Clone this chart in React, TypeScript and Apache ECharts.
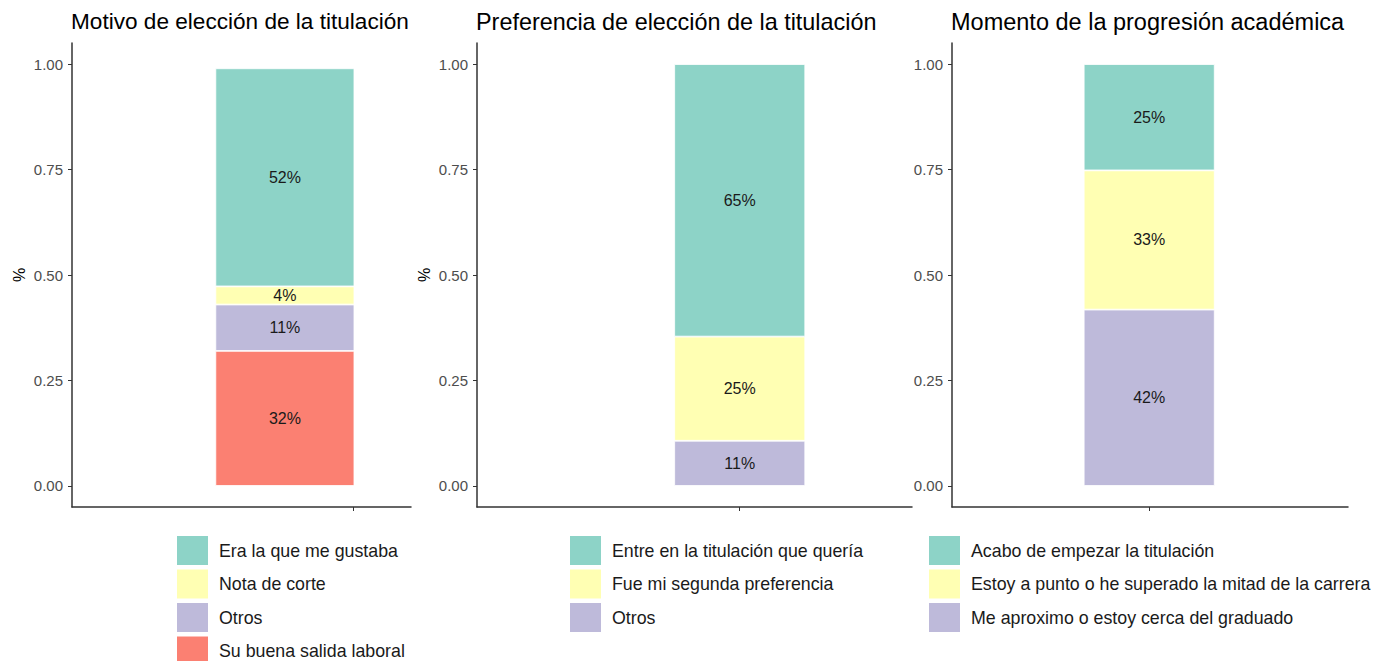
import React, { useEffect, useRef } from "react";
import * as echarts from "echarts";

const colors = ["#8DD3C7", "#FFFFB3", "#BEBADA", "#FB8072"];

const titles = [
  "Motivo de elección de la titulación",
  "Preferencia de elección de la titulación",
  "Momento de la progresión académica",
];

const motivoCats = ["Era la que me gustaba", "Nota de corte", "Otros", "Su buena salida laboral"];
const motivoVals = [0.517, 0.043, 0.11, 0.32];

const prefCats = ["Entre en la titulación que quería", "Fue mi segunda preferencia", "Otros"];
const prefVals = [0.646, 0.247, 0.107];

const momentoCats = [
  "Acabo de empezar la titulación",
  "Estoy a punto o he superado la mitad de la carrera",
  "Me aproximo o estoy cerca del graduado",
];
const momentoVals = [0.252, 0.33, 0.418];

const yTicks = [0, 0.25, 0.5, 0.75, 1];
const yName = "%";
const barCategory = ["total"];

const FONT = "'Liberation Sans', Arial, sans-serif";

// layout per panel (pixels / axis fractions)
const panels = [
  { cats: motivoCats, vals: motivoVals, left: 72, width: 339, barX: 0.628, tickX: 0.829, barW: 139, legendLeft: 177, showName: true, titleSize: 22.6 },
  { cats: prefCats, vals: prefVals, left: 477, width: 435, barX: 0.604, tickX: 0.604, barW: 131, legendLeft: 570, showName: true, titleSize: 23.4 },
  { cats: momentoCats, vals: momentoVals, left: 952, width: 396, barX: 0.498, tickX: 0.498, barW: 131, legendLeft: 929, showName: false, titleSize: 23.5 },
];

export default function App() {
  const ref = useRef<HTMLDivElement>(null);
  useEffect(() => {
    if (!ref.current) return;
    const chart = echarts.init(ref.current, undefined, { renderer: "svg" });
    const gridTop = 43;
    const gridH = 464;
    const barGridW = 300;
    const grids: any[] = [];
    const xAxes: any[] = [];
    const yAxes: any[] = [];
    const series: any[] = [];
    const legends: any[] = [];
    const titleOpts: any[] = [];
    panels.forEach((p, i) => {
      const axGrid = 2 * i;
      const barGrid = 2 * i + 1;
      // visible axes grid
      grids.push({ left: p.left, top: gridTop, width: p.width, height: gridH });
      // bar grid, centred on the bar position
      grids.push({
        left: p.left + p.barX * p.width - barGridW / 2,
        top: gridTop,
        width: barGridW,
        height: gridH,
      });
      titleOpts.push({
        text: titles[i],
        left: p.left - 1,
        top: 10,
        padding: 0,
        textStyle: { fontFamily: FONT, fontSize: p.titleSize, fontWeight: "normal", color: "#000" },
      });
      xAxes.push({
        type: "value",
        gridIndex: axGrid,
        min: 0,
        max: 1,
        axisLine: { show: true, onZero: false, lineStyle: { color: "#333", width: 1.5 } },
        axisTick: { show: true, length: 4, customValues: [p.tickX], lineStyle: { color: "#333", width: 1 } },
        axisLabel: { show: false },
        splitLine: { show: false },
      });
      xAxes.push({
        type: "category",
        gridIndex: barGrid,
        data: barCategory,
        show: false,
      });
      yAxes.push({
        type: "value",
        gridIndex: axGrid,
        min: -0.05,
        max: 1.05,
        name: p.showName ? yName : "",
        nameLocation: "middle",
        nameGap: 45,
        nameRotate: 90,
        nameTextStyle: { fontFamily: FONT, fontSize: 16, color: "#000" },
        axisLine: { show: true, lineStyle: { color: "#333", width: 1.5 } },
        axisTick: { show: true, length: 4, customValues: yTicks, lineStyle: { color: "#333", width: 1 } },
        axisLabel: {
          customValues: yTicks,
          margin: 9,
          fontFamily: FONT,
          fontSize: 15,
          color: "#4D4D4D",
          formatter: (v: number) => v.toFixed(2),
        },
        splitLine: { show: false },
      });
      yAxes.push({
        type: "value",
        gridIndex: barGrid,
        min: -0.05,
        max: 1.05,
        show: false,
        splitLine: { show: false },
      });
      // stack bottom-first (last category at the bottom)
      for (let k = p.cats.length - 1; k >= 0; k--) {
        series.push({
          type: "bar",
          name: p.cats[k],
          xAxisIndex: barGrid,
          yAxisIndex: barGrid,
          stack: "s" + i,
          barWidth: p.barW,
          data: [p.vals[k]],
          itemStyle: { color: colors[k], borderColor: "#fff", borderWidth: 0.8 },
          label: {
            show: true,
            position: "inside",
            fontFamily: FONT,
            fontSize: 16,
            color: "#1A1A1A",
            formatter: (prm: any) => Math.round(prm.value * 100) + "%",
          },
        });
      }
      legends.push({
        orient: "vertical",
        left: p.legendLeft,
        top: 536,
        height: 150,
        padding: 0,
        itemWidth: 31,
        itemHeight: 29,
        itemGap: 4.5,
        icon: "rect",
        selectedMode: false,
        data: p.cats,
        itemStyle: { borderWidth: 0 },
        textStyle: {
          fontFamily: FONT,
          fontSize: 17.8,
          lineHeight: 26,
          color: "#1A1A1A",
          padding: [0, 0, 0, 6],
        },
      });
    });
    chart.setOption({
      animation: false,
      backgroundColor: "#fff",
      title: titleOpts,
      grid: grids,
      xAxis: xAxes,
      yAxis: yAxes,
      legend: legends,
      series,
    });
    return () => chart.dispose();
  }, []);
  return (
    <div
      ref={ref}
      style={{ position: "absolute", left: 0, top: 0, width: 1389, height: 661 }}
    />
  );
}
